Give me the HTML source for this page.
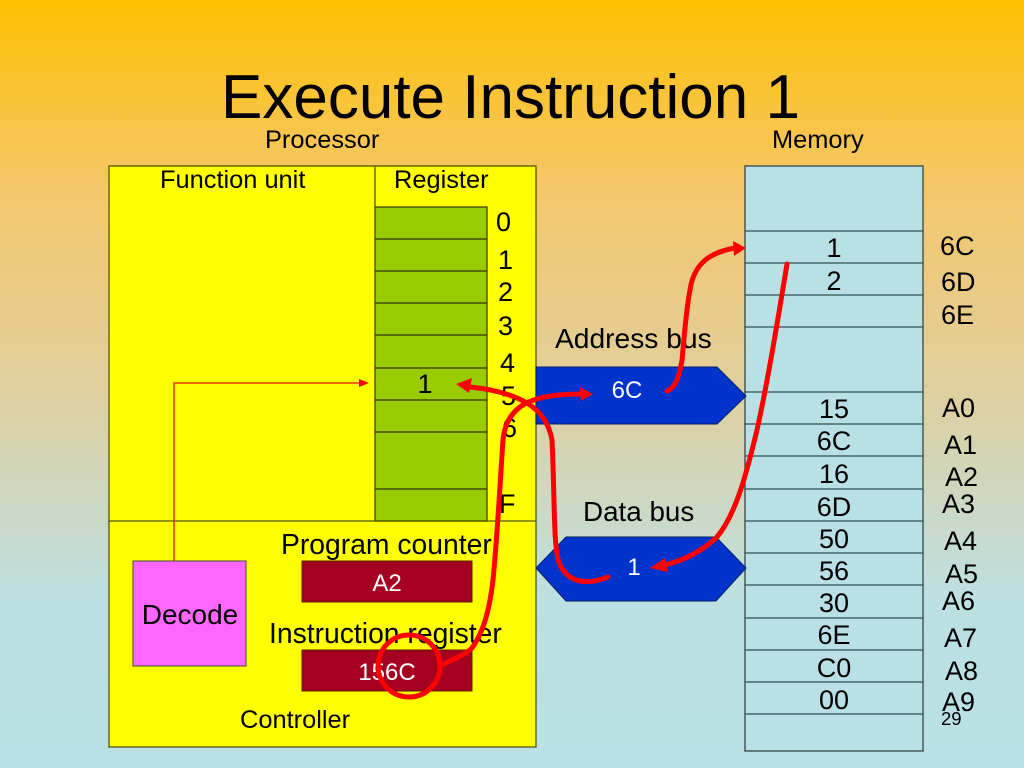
<!DOCTYPE html>
<html><head><meta charset="utf-8"><style>
html,body{margin:0;padding:0;width:1024px;height:768px;overflow:hidden}
svg{display:block}
text{font-family:"Liberation Sans",Arial,sans-serif;fill:#000}
.l{font-size:25.4px}
.m{font-size:27px;text-anchor:middle}
.w{fill:#fff;font-size:24px;text-anchor:middle}
.r{fill:none;stroke:#f00;stroke-width:5;stroke-linecap:round}
</style></head><body>
<svg width="1024" height="768" viewBox="0 0 1024 768" xmlns="http://www.w3.org/2000/svg">
<defs><linearGradient id="bg" x1="0" y1="0" x2="0" y2="1">
<stop offset="0" stop-color="#FFC000"/><stop offset=".25" stop-color="#F5C76C"/><stop offset=".5" stop-color="#E0CF9C"/><stop offset=".78" stop-color="#BDE0E2"/><stop offset="1" stop-color="#B9E1E5"/>
</linearGradient></defs>
<rect width="1024" height="768" fill="url(#bg)"/>
<text x="221" y="118" font-size="62">Execute Instruction 1</text>
<text x="265" y="148" class="l">Processor</text>
<text x="772" y="148" class="l">Memory</text>

<rect x="109" y="166" width="427" height="581" fill="#FFFF00" stroke="#555500" stroke-width="1.3"/>
<path d="M109 521H536M375 166V207" stroke="#555500" stroke-width="1.3" fill="none"/>
<rect x="375" y="207" width="112" height="314" fill="#99CC00" stroke="#444400" stroke-width="1.3"/>
<path d="M375 239H487M375 271H487M375 303H487M375 335H487M375 368H487M375 400H487M375 432H487M375 489H487" stroke="#333300" stroke-width="1.3" fill="none"/>
<text x="160" y="188" class="l">Function unit</text>
<text x="394" y="188" class="l">Register</text>
<g font-size="27">
<text x="496" y="231">0</text><text x="498" y="269">1</text><text x="498" y="301">2</text><text x="498" y="335">3</text><text x="500" y="372">4</text><text x="501" y="405">5</text><text x="502" y="437">6</text><text x="499" y="513">F</text>
</g>
<text x="425" y="393" class="m">1</text>

<rect x="745" y="166" width="178" height="585" fill="#B9E1E5" stroke="#334444" stroke-width="1.3"/>
<path d="M745 231H923M745 263H923M745 295H923M745 327H923M745 392H923M745 424H923M745 456H923M745 489H923M745 521H923M745 553H923M745 585H923M745 618H923M745 650H923M745 682H923M745 714H923" stroke="#2F4F4F" stroke-width="1.3" fill="none"/>
<g>
<text x="834" y="257" class="m">1</text><text x="834" y="290" class="m">2</text>
<text x="834" y="418" class="m">15</text><text x="834" y="450" class="m">6C</text><text x="834" y="483" class="m">16</text><text x="834" y="516" class="m">6D</text><text x="834" y="548" class="m">50</text><text x="834" y="580" class="m">56</text><text x="834" y="612" class="m">30</text><text x="834" y="644" class="m">6E</text><text x="834" y="677" class="m">C0</text><text x="834" y="709" class="m">00</text>
</g>
<g font-size="27">
<text x="940" y="255">6C</text><text x="941" y="291">6D</text><text x="941" y="324">6E</text>
<text x="942" y="417">A0</text><text x="944" y="454">A1</text><text x="945" y="486">A2</text><text x="942" y="513">A3</text><text x="944" y="550">A4</text><text x="945" y="583">A5</text><text x="942" y="610">A6</text><text x="944" y="647">A7</text><text x="945" y="680">A8</text><text x="942" y="711">A9</text>
</g>
<text x="941" y="725" font-size="18.5">29</text>

<text x="555" y="348" font-size="28.2">Address bus</text>
<polygon points="536,367 717,367 746,396 717,424 536,424" fill="#0033CC" stroke="#002266" stroke-width="1"/>
<text x="627" y="398" class="w">6C</text>
<text x="583" y="521" font-size="27.8">Data bus</text>
<polygon points="536,568 566,537 716,537 746,568 716,601 566,601" fill="#0033CC" stroke="#002266" stroke-width="1"/>
<text x="634" y="575" class="w">1</text>

<rect x="133" y="561" width="113" height="105" fill="#FF66FF" stroke="#444" stroke-width="1"/>
<text x="190" y="624" style="font-size:28px;text-anchor:middle">Decode</text>
<text x="281" y="554" font-size="28.3">Program counter</text>
<rect x="302" y="561" width="170" height="41" fill="#A50021" stroke="#552200" stroke-width="1"/>
<text x="387" y="591" class="w" font-size="25">A2</text>
<text x="269" y="643" font-size="28.3">Instruction register</text>
<rect x="302" y="650" width="170" height="41" fill="#A50021" stroke="#552200" stroke-width="1"/>
<text x="387" y="680" class="w">156C</text>
<text x="240" y="728" class="l">Controller</text>

<path d="M174 561V383H360" fill="none" stroke="#E01010" stroke-width="1.3"/>
<polygon points="369,383 359,379 359,387" fill="#f00"/>

<path class="r" d="M667 391C675 388 679 378 682 360C684 340 686 310 690 290C694 262 712 252 735 248"/>
<polygon points="746,248 733,241 734,256" fill="#f00"/>
<path class="r" d="M787 264C777 325 767 385 757 430C745 480 735 515 717 537C700 553 680 562 660 566"/>
<polygon points="650,568 665,558 668,572" fill="#f00"/>
<path class="r" d="M608 577C590 584 570 585 560 565C553 551 555 500 552 440C549 423 540 411 527 403C510 393 490 389 470 387"/>
<polygon points="456,384 472,378 469,393" fill="#f00"/>
<path class="r" d="M442 665C455 658 465 655 472 648C485 630 490 605 493 580C497 540 499 500 503 440C505 420 515 405 537 399C550 395 565 394 582 394"/>
<polygon points="593,394 580,387 581,401" fill="#f00"/>
<circle cx="409" cy="666" r="31" fill="none" stroke="#f00" stroke-width="5"/>
</svg>
</body></html>
